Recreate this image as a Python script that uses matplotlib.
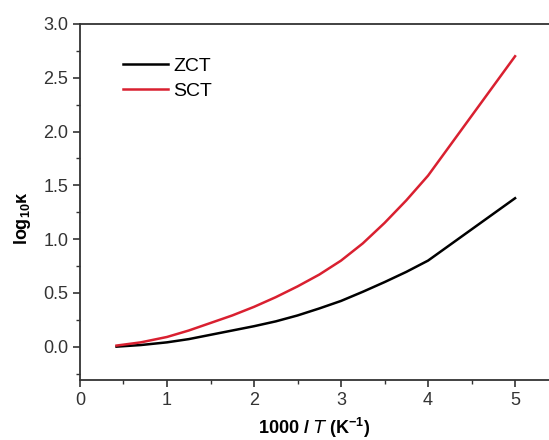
import matplotlib
matplotlib.use('Agg')
import matplotlib.pyplot as plt
from matplotlib.ticker import MultipleLocator, FormatStrFormatter

plt.rcParams['font.family'] = ['Liberation Sans', 'DejaVu Sans']
plt.rcParams['mathtext.default'] = 'regular'

# data
x_inv_t = [0.42, 0.7, 1.0, 1.25, 1.5, 1.75, 2.0, 2.25, 2.5, 2.75, 3.0, 3.25, 3.5, 3.75, 4.0, 5.0]
zct = [0.0, 0.015, 0.04, 0.07, 0.11, 0.15, 0.19, 0.235, 0.29, 0.355, 0.425, 0.51, 0.60, 0.695, 0.80, 1.38]
sct = [0.01, 0.04, 0.09, 0.15, 0.22, 0.29, 0.37, 0.46, 0.56, 0.67, 0.80, 0.96, 1.15, 1.36, 1.59, 2.70]

fig = plt.figure(figsize=(5.49, 4.40), dpi=100)
ax = fig.add_axes([0.1457, 0.1364, 0.8543, 0.8091])

ax.plot(x_inv_t, zct, color='black', linewidth=1.8, label='ZCT')
ax.plot(x_inv_t, sct, color='#d92030', linewidth=1.8, label='SCT')

ax.set_xlim(0, 5.39)
ax.set_ylim(-0.31, 3.0)
ax.xaxis.set_major_locator(MultipleLocator(1))
ax.xaxis.set_minor_locator(MultipleLocator(0.5))
ax.yaxis.set_major_locator(MultipleLocator(0.5))
ax.yaxis.set_minor_locator(MultipleLocator(0.25))
ax.yaxis.set_major_formatter(FormatStrFormatter('%.1f'))

for s in ['left', 'bottom', 'top']:
    ax.spines[s].set_color('#333333')
    ax.spines[s].set_linewidth(1.3)
ax.spines['right'].set_visible(False)

ax.tick_params(which='major', direction='out', length=5, width=1.2, color='#333333',
               labelsize=13, labelcolor='#333333')
ax.tick_params(which='minor', direction='out', length=3, width=1.0, color='#333333')

ax.set_xlabel(r'1000 / $\mathit{T}$ (K$^{-1}$)', fontsize=13, fontweight='bold', labelpad=5)
ax.set_ylabel(r'log$_{10}$κ', fontsize=13, fontweight='bold')
ax.yaxis.set_label_coords(-0.100, 0.455)

ax.legend(loc='upper left', bbox_to_anchor=(0.054, 0.955), frameon=False, fontsize=14,
          handlelength=2.3, handletextpad=0.3, labelspacing=0.35)

fig.savefig('out.png', dpi=100)
